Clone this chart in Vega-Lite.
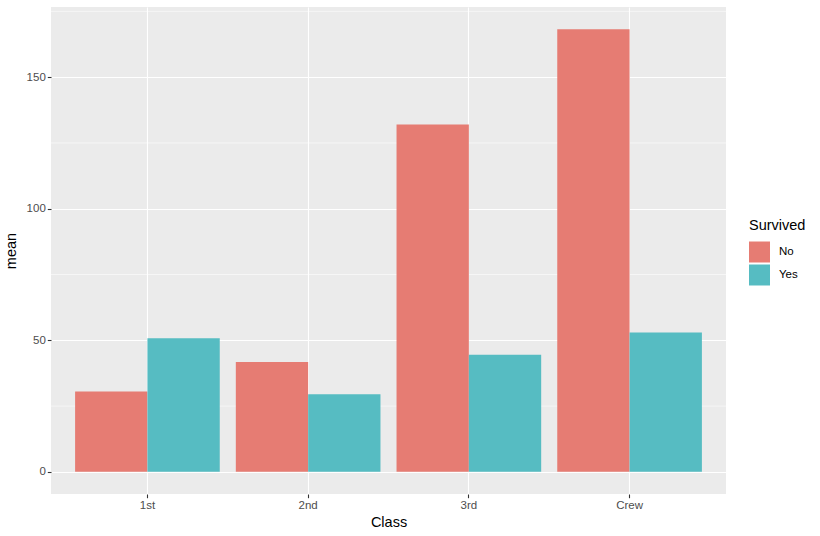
{
  "$schema": "https://vega.github.io/schema/vega-lite/v6.json",
  "width": 675,
  "height": 487,
  "autosize": "none",
  "padding": {"left": 51, "top": 7, "right": 94, "bottom": 42},
  "background": "white",
  "config": {
    "font": "Liberation Sans",
    "view": {"fill": "#EBEBEB", "stroke": null},
    "axis": {
      "grid": true, "gridColor": "white", "gridWidth": 1.1, "gridOpacity": 1,
      "domain": false, "tickColor": "#333333", "tickSize": 3.7, "tickWidth": 1.1,
      "labelColor": "#4D4D4D", "labelFontSize": 11.5, "labelPadding": 2,
      "titleColor": "black", "titleFontSize": 14.5, "titleFontWeight": "normal"
    }
  },
  "datasets": {
    "bars": [
      {"Class": "1st", "Survived": "No", "mean": 30.5},
      {"Class": "1st", "Survived": "Yes", "mean": 50.75},
      {"Class": "2nd", "Survived": "No", "mean": 41.75},
      {"Class": "2nd", "Survived": "Yes", "mean": 29.5},
      {"Class": "3rd", "Survived": "No", "mean": 132},
      {"Class": "3rd", "Survived": "Yes", "mean": 44.5},
      {"Class": "Crew", "Survived": "No", "mean": 168.25},
      {"Class": "Crew", "Survived": "Yes", "mean": 53}
    ],
    "minor": [{"v": 25}, {"v": 75}, {"v": 125}, {"v": 175}]
  },
  "layer": [
    {
      "data": {"name": "minor"},
      "mark": {"type": "rule", "color": "white", "strokeWidth": 0.55},
      "encoding": {
        "y": {"field": "v", "type": "quantitative", "scale": {"domain": [-8.41, 176.66], "nice": false, "zero": false},
          "axis": {"title": "mean", "values": [0, 50, 100, 150], "titlePadding": 8}}
      }
    },
    {
      "data": {"name": "bars"},
      "mark": {"type": "bar"},
      "encoding": {
        "x": {
          "field": "Class", "type": "nominal",
          "scale": {"paddingInner": 0.1, "paddingOuter": 0.15},
          "axis": {"title": "Class", "labelAngle": 0, "bandPosition": 0.5, "titlePadding": 4}
        },
        "xOffset": {"field": "Survived", "type": "nominal", "scale": {"paddingInner": 0, "paddingOuter": 0}},
        "y": {
          "field": "mean", "type": "quantitative",
          "scale": {"domain": [-8.41, 176.66], "nice": false, "zero": false},
          "axis": {"title": "mean", "values": [0, 50, 100, 150], "titlePadding": 8}
        },
        "color": {
          "field": "Survived", "type": "nominal",
          "scale": {"domain": ["No", "Yes"], "range": ["#E67C73", "#56BCC2"]},
          "legend": {
            "orient": "none", "legendX": 698, "legendY": 212,
            "title": "Survived", "titleFontSize": 14.5, "titleFontWeight": "normal", "titleColor": "black", "titlePadding": 8,
            "symbolType": "square", "symbolSize": 441, "symbolStrokeWidth": 0, "symbolOpacity": 1,
            "labelFontSize": 11.5, "labelColor": "black", "labelOffset": 9, "rowPadding": 2
          }
        }
      }
    }
  ]
}
